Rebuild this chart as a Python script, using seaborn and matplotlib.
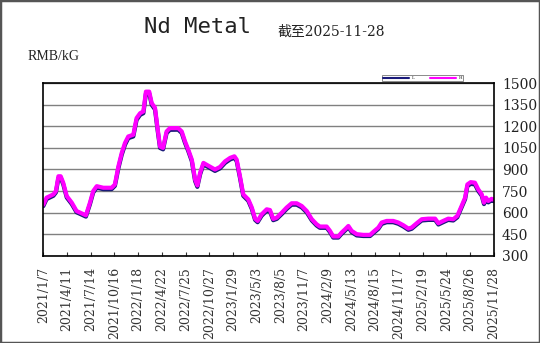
import matplotlib
matplotlib.use("Agg")
import matplotlib.pyplot as plt
from matplotlib.patches import Rectangle
import seaborn as sns
import pandas as pd

# ---- data ----
start_date = "2021-01-07"
day_offsets = [0, 13, 40, 50, 60, 69, 79, 93, 113, 132, 152, 169, 185, 198, 212, 238, 271, 284,
               298, 311, 324, 337, 357, 370, 384, 397, 407, 420, 430, 443, 454, 463, 475, 489,
               502, 535, 549, 562, 575, 589, 602, 611, 622, 635, 654, 681, 701, 721, 741, 758,
               767, 780, 793, 813, 827, 840, 850, 866, 886, 899, 912, 926, 946, 965, 985, 1005,
               1025, 1045, 1065, 1084, 1097, 1124, 1137, 1150, 1170, 1183, 1197, 1210, 1223,
               1243, 1269, 1296, 1309, 1329, 1342, 1362, 1388, 1408, 1428, 1448, 1461, 1481,
               1501, 1527, 1554, 1567, 1586, 1606, 1626, 1642, 1659, 1673, 1682, 1695, 1712,
               1725, 1739, 1748, 1756, 1765, 1778, 1786]
high_price = [655, 704, 727, 750, 853, 853, 808, 715, 669, 611, 595, 581, 669, 750, 784, 773, 773, 796,
              923, 1015, 1085, 1130, 1142, 1258, 1292, 1304, 1442, 1442, 1362, 1330, 1177, 1060, 1050, 1165,
              1188, 1188, 1165, 1096, 1038, 969, 831, 789, 877, 946, 927, 900, 918, 957, 981, 992,
              969, 853, 727, 692, 635, 558, 542, 588, 623, 618, 556, 565, 600, 635, 665, 665,
              646, 611, 554, 519, 503, 503, 473, 434, 434, 461, 484, 507, 473,
              450, 445, 445, 466, 496, 531, 542, 542, 531, 512, 489, 496, 526,
              554, 558, 558, 526, 542, 558, 554, 577, 646, 704, 796, 812, 808,
              762, 727, 669, 704, 681, 696, 690]
low_price = [645, 694, 717, 740, 840, 842, 797, 705, 659, 602, 586, 572, 658, 740, 773, 763, 763, 786,
             910, 1002, 1072, 1118, 1130, 1245, 1280, 1292, 1428, 1430, 1350, 1318, 1165, 1050, 1040, 1153,
             1176, 1177, 1154, 1085, 1028, 958, 820, 779, 866, 935, 917, 890, 908, 946, 970, 981,
             958, 842, 717, 682, 625, 549, 533, 578, 613, 608, 547, 556, 590, 625, 655, 655,
             636, 601, 545, 510, 494, 494, 464, 426, 426, 452, 475, 498, 464,
             441, 437, 437, 457, 487, 521, 533, 533, 522, 503, 480, 487, 517,
             545, 549, 549, 517, 533, 549, 545, 567, 636, 693, 784, 800, 796,
             751, 717, 659, 693, 671, 686, 680]
tick_labels = ["2021/1/7", "2021/4/11", "2021/7/14", "2021/10/16", "2022/1/18", "2022/4/22",
               "2022/7/25", "2022/10/27", "2023/1/29", "2023/5/3", "2023/8/5", "2023/11/7",
               "2024/2/9", "2024/5/13", "2024/8/15", "2024/11/17", "2025/2/19", "2025/5/24",
               "2025/8/26", "2025/11/28"]
y_ticks = [300, 450, 600, 750, 900, 1050, 1200, 1350, 1500]

df = pd.DataFrame({
    "date": pd.Timestamp(start_date) + pd.to_timedelta(day_offsets, unit="D"),
    "low": low_price,
    "high": high_price,
})
tick_dates = pd.to_datetime(tick_labels, format="%Y/%m/%d")

sns.set_theme(style="white")
plt.rcParams["font.family"] = ["DejaVu Serif", "Noto Sans CJK SC"]

fig = plt.figure(figsize=(5.4, 3.43), dpi=100)
fig.patch.set_facecolor("white")
ax = fig.add_axes([43.3 / 540, 1 - 255.7 / 343, (493.6 - 43.3) / 540, (255.7 - 83.3) / 343])

sns.lineplot(data=df, x="date", y="low", ax=ax, color="#1a1a7a", linewidth=3.0, label="L")
sns.lineplot(data=df, x="date", y="high", ax=ax, color="#ff00ff", linewidth=3.0, label="H")

ax.set_xlim(tick_dates[0], tick_dates[-1])
ax.set_ylim(300, 1500)
ax.set_yticks(y_ticks)
ax.yaxis.tick_right()
ax.tick_params(axis="y", length=0, pad=6, labelsize=10)
ax.set_yticklabels([str(v) for v in y_ticks], fontfamily="DejaVu Serif", color="#222222")
ax.set_xticks(tick_dates)
ax.set_xticklabels(tick_labels, rotation=90, fontsize=9, fontfamily="DejaVu Serif", color="#333333")
ax.tick_params(axis="x", direction="in", length=3, width=0.8, color="#333333", pad=8, bottom=True)
ax.set_xlabel("")
ax.set_ylabel("")
ax.grid(axis="y", color="#808080", linewidth=1.0)
ax.grid(axis="x", visible=False)
for sp in ax.spines.values():
    sp.set_visible(True)
    sp.set_color("black")
    sp.set_linewidth(1.2)

leg = ax.legend(ncol=2, loc="center", bbox_to_anchor=(422.5 / 540, 1 - 78 / 343),
                bbox_transform=fig.transFigure, fontsize=3, handlelength=6.2,
                handletextpad=0.6, columnspacing=3.8, borderpad=0.25, frameon=True, fancybox=False,
                borderaxespad=0)
leg.get_frame().set_edgecolor("#555555")
leg.get_frame().set_linewidth(0.6)
for ln in leg.get_lines():
    ln.set_linewidth(1.5)

fig.text(198 / 540, 1 - 27 / 343, "Nd Metal", ha="center", va="center", fontsize=16,
         fontfamily=["DejaVu Sans Mono"], color="#222222")
fig.text(277 / 540, 1 - 32 / 343, "截至2025-11-28", ha="left", va="center", fontsize=10,
         fontfamily=["DejaVu Serif", "Noto Sans CJK SC"], color="#222222")
fig.text(28 / 540, 1 - 56 / 343, "RMB/kG", ha="left", va="center", fontsize=10,
         fontfamily=["Liberation Serif"], color="#222222")

fig.add_artist(Rectangle((0, 0), 1, 1, transform=fig.transFigure, fill=False,
                         edgecolor="#555555", linewidth=2.5))

fig.savefig("out.png", dpi=100)
